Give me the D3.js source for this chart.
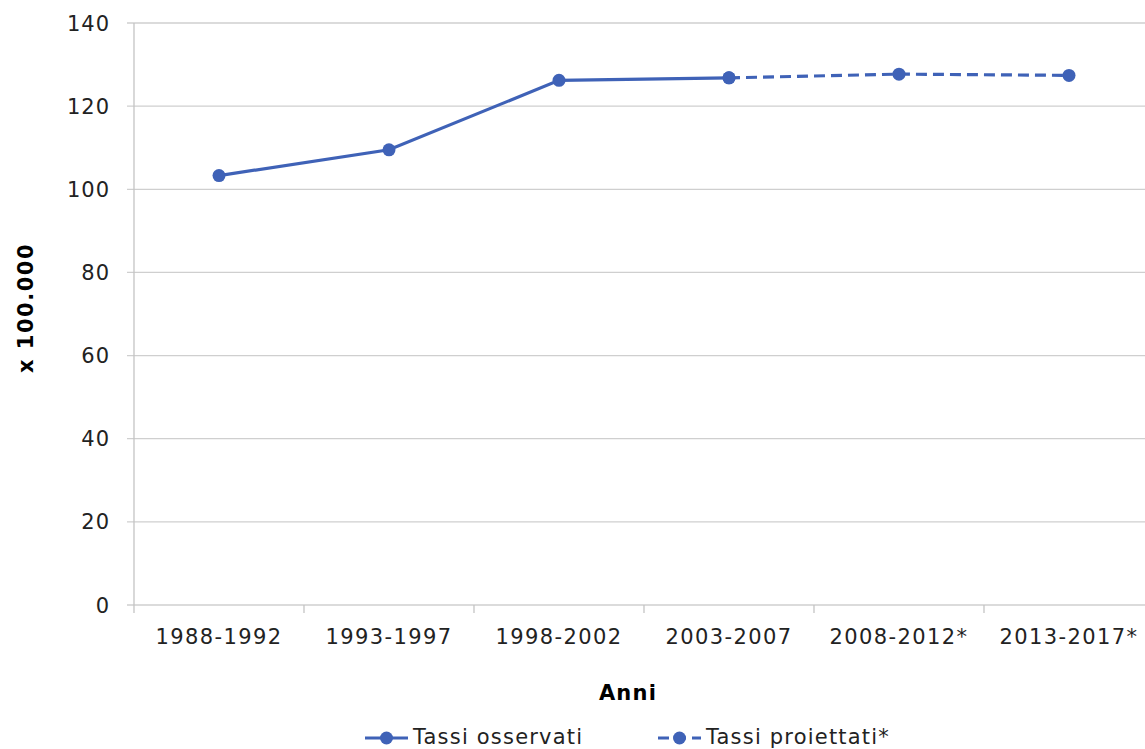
<!DOCTYPE html>
<html>
<head>
<meta charset="utf-8">
<script src="https://cdn.jsdelivr.net/npm/d3@7"></script>
<style>
  body { margin: 0; background: #fff; }
  svg { display: block; font-family: "DejaVu Sans", Verdana, sans-serif; }
</style>
</head>
<body>
<div id="chart"></div>
<script>
// Periods and rates (x 100.000)
const periods = ['1988-1992', '1993-1997', '1998-2002', '2003-2007', '2008-2012*', '2013-2017*'];
const observed = [103.3, 109.5, 126.2, 126.8, null, null];
const projected = [null, null, null, 126.8, 127.7, 127.4];
const yTicks = [0, 20, 40, 60, 80, 100, 120, 140];

const width = 1145, height = 749;
const margin = { top: 23, left: 134, bottom: 144 };
const plotRight = 1154; // plot area runs past the picture edge

const svg = d3.select('#chart').append('svg')
    .attr('width', width)
    .attr('height', height);

const x = d3.scaleBand()
    .domain(periods)
    .range([margin.left, plotRight]);

const y = d3.scaleLinear()
    .domain([0, 140])
    .range([height - margin.bottom, margin.top]);

const lineColor = '#3f62b7';

// Gridlines
svg.append('g')
    .selectAll('line')
    .data(yTicks)
    .enter()
    .append('line')
    .attr('x1', margin.left - 7)
    .attr('x2', plotRight)
    .attr('y1', d => y(d))
    .attr('y2', d => y(d))
    .attr('stroke', '#cfcfcf')
    .attr('stroke-width', 1.3);

// Y axis line
svg.append('line')
    .attr('x1', margin.left).attr('x2', margin.left)
    .attr('y1', y(140)).attr('y2', y(0))
    .attr('stroke', '#c4c4c4')
    .attr('stroke-width', 1.3);

// X tick marks at band edges
const edges = periods.map(p => x(p)).concat([plotRight]);
svg.append('g')
    .selectAll('line')
    .data(edges)
    .enter()
    .append('line')
    .attr('x1', d => d).attr('x2', d => d)
    .attr('y1', y(0)).attr('y2', y(0) + 8)
    .attr('stroke', '#c4c4c4')
    .attr('stroke-width', 1.3);

// Y tick labels
svg.append('g')
    .selectAll('text')
    .data(yTicks)
    .enter()
    .append('text')
    .attr('x', 110)
    .attr('y', d => y(d))
    .attr('dy', '0.36em')
    .attr('text-anchor', 'end')
    .style('font-size', '21px')
    .style('letter-spacing', '1px')
    .attr('fill', '#222')
    .text(d => d);

// X tick labels
svg.append('g')
    .selectAll('text')
    .data(periods)
    .enter()
    .append('text')
    .attr('x', d => x(d) + x.bandwidth() / 2)
    .attr('y', 644)
    .attr('text-anchor', 'middle')
    .style('font-size', '21px')
    .style('letter-spacing', '1.4px')
    .attr('fill', '#222')
    .text(d => d);

// Axis titles
svg.append('text')
    .attr('x', 628)
    .attr('y', 692)
    .attr('dy', '0.36em')
    .attr('text-anchor', 'middle')
    .style('font-size', '21px')
    .style('font-weight', 'bold')
    .style('letter-spacing', '1.2px')
    .text('Anni');

svg.append('text')
    .attr('transform', 'translate(25, 308) rotate(-90)')
    .attr('dy', '0.36em')
    .attr('text-anchor', 'middle')
    .style('font-size', '21px')
    .style('font-weight', 'bold')
    .style('letter-spacing', '1.5px')
    .text('x 100.000');

const cx = d => x(d) + x.bandwidth() / 2;

// Lines
function drawSeries(values, dashed) {
    const pts = periods.map((p, i) => ({ p, v: values[i] })).filter(d => d.v !== null);
    const line = d3.line().x(d => cx(d.p)).y(d => y(d.v));
    svg.append('path')
        .datum(pts)
        .attr('d', line)
        .attr('fill', 'none')
        .attr('stroke', lineColor)
        .attr('stroke-width', 3.2)
        .attr('stroke-dasharray', dashed ? '11,6' : null);
    svg.append('g')
        .selectAll('circle')
        .data(pts)
        .enter()
        .append('circle')
        .attr('cx', d => cx(d.p))
        .attr('cy', d => y(d.v))
        .attr('r', 6.5)
        .attr('fill', lineColor);
}

drawSeries(projected, true);
drawSeries(observed, false);

// Legend
const legend = [
    { label: 'Tassi osservati', x: 365, dashed: false },
    { label: 'Tassi proiettati*', x: 658, dashed: true }
];
const legendY = 738;
legend.forEach(item => {
    const g = svg.append('g');
    g.append('line')
        .attr('x1', item.x).attr('x2', item.x + 43)
        .attr('y1', legendY).attr('y2', legendY)
        .attr('stroke', lineColor)
        .attr('stroke-width', 3.2)
        .attr('stroke-dasharray', item.dashed ? '11,6' : null);
    g.append('circle')
        .attr('cx', item.x + 21.5)
        .attr('cy', legendY)
        .attr('r', 6.5)
        .attr('fill', lineColor);
    g.append('text')
        .attr('x', item.x + 48)
        .attr('y', 744)
        .style('font-size', '21px')
        .style('letter-spacing', '1.2px')
        .attr('fill', '#222')
        .text(item.label);
});
</script>
</body>
</html>
